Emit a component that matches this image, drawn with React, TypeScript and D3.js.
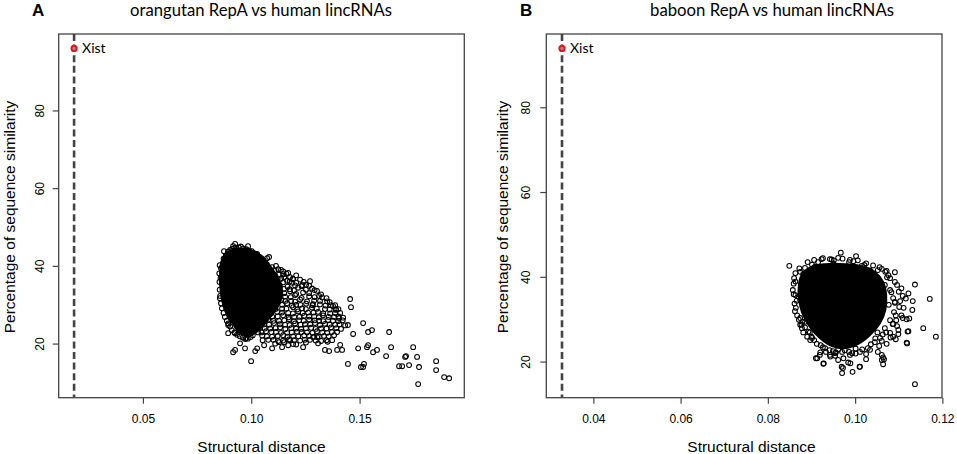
import React from 'react';
import { scaleLinear, line, curveCatmullRomClosed, format } from 'd3';

// panel A: orangutan RepA vs human lincRNAs
const titleA = 'orangutan RepA vs human lincRNAs';
const xistA = { x: 0.018, y: 96.1 };
const ticksXA = [0.05, 0.10, 0.15];
const ticksYA = [20, 40, 60, 80];

// outline of the solid black core of the cloud
const coreA: [number, number][] = [
  [0.0859, 41.1], [0.0882, 43.4], [0.0923, 44.5], [0.0969, 44.5], [0.1016, 43.7],
  [0.1052, 42.1], [0.1085, 40.1], [0.1112, 37.8], [0.1135, 35.2], [0.1140, 32.6],
  [0.1120, 29.6], [0.1080, 26.6], [0.1040, 24.0], [0.0990, 22.1], [0.0946, 22.8],
  [0.0914, 25.1], [0.0882, 28.0], [0.0863, 31.3], [0.0854, 35.2], [0.0854, 38.5],
];

const meshA: [number, number][] = [
  [0.1094, 39.8], [0.1122, 39.3], [0.1076, 38.4], [0.1145, 38.7], [0.1108, 37.6], [0.1177, 37.2], [0.1205, 37.7],
  [0.1085, 36.4], [0.1136, 36.8], [0.1163, 36.3], [0.1223, 36.6], [0.1117, 35.4], [0.1186, 35.8], [0.1251, 35.3],
  [0.1094, 34.6], [0.1149, 34.2], [0.1214, 34.5], [0.1278, 34.3], [0.1126, 33.2], [0.1177, 33.6], [0.1237, 33.3],
  [0.1301, 33.7], [0.1103, 32.5], [0.1154, 32.2], [0.1200, 32.6], [0.1265, 32.3], [0.1325, 32.0], [0.1136, 31.4],
  [0.1182, 31.1], [0.1223, 31.5], [0.1288, 31.2], [0.1348, 31.0], [0.1112, 30.2], [0.1163, 30.5], [0.1205, 30.1],
  [0.1251, 30.4], [0.1315, 30.2], [0.1366, 30.0], [0.1085, 29.4], [0.1140, 29.1], [0.1191, 29.5], [0.1232, 29.2],
  [0.1278, 29.4], [0.1338, 29.0], [0.1389, 28.8], [0.1117, 28.3], [0.1168, 28.0], [0.1214, 28.4], [0.1260, 28.1],
  [0.1306, 28.3], [0.1362, 27.9], [0.1408, 28.0], [0.1094, 27.1], [0.1145, 27.4], [0.1196, 27.0], [0.1242, 27.3],
  [0.1288, 27.1], [0.1329, 27.4], [0.1380, 27.0], [0.1422, 26.8], [0.1076, 26.3], [0.1126, 26.0], [0.1172, 26.4],
  [0.1219, 26.1], [0.1265, 26.3], [0.1311, 26.0], [0.1352, 26.2], [0.1399, 25.9], [0.1057, 25.1], [0.1103, 25.4],
  [0.1154, 25.0], [0.1200, 25.3], [0.1246, 25.1], [0.1292, 25.4], [0.1338, 25.2], [0.1385, 25.0], [0.1431, 24.8],
  [0.1039, 24.2], [0.1085, 24.0], [0.1131, 24.3], [0.1182, 24.1], [0.1228, 23.9], [0.1274, 24.2], [0.1320, 24.0],
  [0.1366, 24.3], [0.1412, 23.9], [0.1029, 23.0], [0.1066, 23.3], [0.1112, 23.1], [0.1163, 22.9], [0.1209, 23.2],
  [0.1255, 23.0], [0.1301, 23.3], [0.1348, 22.9], [0.1394, 23.1], [0.1048, 22.2], [0.1094, 21.9], [0.1145, 22.3],
  [0.1191, 22.0], [0.1242, 22.2], [0.1288, 21.9], [0.1334, 22.1], [0.1380, 22.3], [0.1076, 21.1], [0.1122, 20.8],
  [0.1172, 21.2], [0.1223, 20.9], [0.1269, 21.1], [0.1320, 20.8], [0.1371, 21.0], [0.1108, 20.1], [0.1205, 19.9],
  [0.1306, 20.2], [0.1408, 19.8],
  [0.1105, 39.0], [0.1135, 39.1], [0.1095, 38.0], [0.1125, 37.9], [0.1160, 38.1], [0.1090, 37.0], [0.1120, 36.9],
  [0.1150, 37.2], [0.1190, 36.8], [0.1110, 36.0], [0.1145, 35.9], [0.1175, 36.1], [0.1205, 35.8], [0.1240, 36.0],
  [0.1100, 35.0], [0.1130, 35.1], [0.1165, 34.8], [0.1200, 35.1], [0.1230, 34.9], [0.1265, 35.0], [0.1120, 34.0],
  [0.1175, 34.1], [0.1195, 33.8], [0.1250, 34.0], [0.1290, 33.9], [0.1105, 33.0], [0.1150, 33.1], [0.1205, 32.9],
  [0.1265, 33.1], [0.1320, 32.8], [0.1125, 32.0], [0.1180, 32.1], [0.1230, 31.9], [0.1290, 32.1], [0.1345, 31.8],
  [0.1100, 31.0], [0.1155, 31.1], [0.1200, 30.9], [0.1255, 31.0], [0.1315, 31.1], [0.1360, 30.8], [0.1095, 30.0],
  [0.1140, 30.1], [0.1185, 29.9], [0.1225, 30.1], [0.1280, 30.0], [0.1340, 29.9], [0.1385, 30.0], [0.1110, 29.0],
  [0.1160, 29.1], [0.1210, 28.9], [0.1250, 29.0], [0.1300, 29.1], [0.1360, 28.9], [0.1400, 29.0], [0.1090, 28.0],
  [0.1140, 28.1], [0.1190, 27.9], [0.1235, 28.0], [0.1285, 28.1], [0.1330, 27.9], [0.1385, 28.0], [0.1070, 27.0],
  [0.1120, 27.1], [0.1170, 26.9], [0.1220, 27.0], [0.1265, 27.1], [0.1310, 26.9], [0.1355, 27.0], [0.1400, 27.1],
  [0.1100, 26.0], [0.1150, 26.1], [0.1195, 25.9], [0.1240, 26.0], [0.1290, 26.1], [0.1330, 25.9], [0.1375, 26.0],
  [0.1420, 26.1], [0.1080, 25.0], [0.1130, 25.1], [0.1175, 24.9], [0.1225, 25.0], [0.1270, 25.1], [0.1315, 24.9],
  [0.1360, 25.0], [0.1405, 25.1], [0.1060, 24.0], [0.1110, 24.1], [0.1155, 23.9], [0.1205, 24.0], [0.1250, 24.1],
  [0.1295, 23.9], [0.1345, 24.0], [0.1390, 24.1], [0.1045, 23.0], [0.1090, 23.1], [0.1135, 22.9], [0.1185, 23.0],
  [0.1230, 23.1], [0.1280, 22.9], [0.1325, 23.0], [0.1370, 23.1], [0.1070, 22.0], [0.1120, 22.1], [0.1165, 21.9],
  [0.1215, 22.0], [0.1265, 22.1], [0.1310, 21.9], [0.1355, 22.0], [0.1050, 21.0], [0.1100, 21.1], [0.1145, 20.9],
  [0.1195, 21.0], [0.1245, 21.1], [0.1295, 20.9], [0.1345, 21.0], [0.1150, 20.5], [0.1250, 20.4], [0.1350, 20.6],
  [0.0858, 39.5], [0.0856, 37.0], [0.0852, 34.0], [0.0858, 30.5], [0.0870, 28.0], [0.0885, 26.0], [0.0900, 24.5],
  [0.0920, 23.0], [0.0945, 22.0], [0.0970, 21.3], [0.0995, 21.8], [0.0870, 42.0], [0.0890, 43.8], [0.0910, 44.5],
  [0.0940, 44.9], [0.0960, 44.6], [0.0990, 44.0], [0.1010, 43.4], [0.1035, 42.5], [0.1055, 41.5], [0.1070, 40.5],
  [0.0852, 40.3], [0.0850, 38.2], [0.0851, 36.0], [0.0853, 31.8], [0.0862, 29.2], [0.0876, 27.0], [0.0892, 25.3],
  [0.0908, 23.6], [0.0932, 22.4], [0.0958, 21.7], [0.0982, 21.4], [0.1005, 22.3], [0.0880, 42.8], [0.0900, 44.2],
  [0.0925, 44.8], [0.0950, 45.1], [0.0975, 44.4], [0.1000, 43.9], [0.1022, 43.0], [0.1045, 42.1], [0.1062, 41.0],
];

const outA: [number, number][] = [
  [0.0872, 43.9], [0.0914, 45.2], [0.0923, 45.8], [0.0983, 45.2], [0.1025, 43.2], [0.1071, 42.1], [0.1080, 42.4],
  [0.1112, 40.1], [0.1145, 38.0], [0.1168, 38.3], [0.1191, 36.7], [0.1233, 35.2], [0.1269, 36.2], [0.1311, 32.4],
  [0.1283, 30.3], [0.1375, 29.8], [0.1389, 29.0], [0.1454, 31.6], [0.1458, 29.5], [0.1403, 26.7], [0.1514, 25.4],
  [0.1537, 23.1], [0.1555, 23.6], [0.1444, 24.9], [0.1468, 22.6], [0.1634, 23.1], [0.1643, 19.2], [0.1620, 16.9],
  [0.1532, 19.2], [0.1537, 19.7], [0.1560, 17.9], [0.1578, 18.5], [0.1518, 14.9], [0.1504, 14.1], [0.1514, 14.1],
  [0.1444, 14.9], [0.1491, 18.9], [0.1680, 14.3], [0.1694, 14.3], [0.1726, 14.6], [0.1712, 16.9], [0.1708, 16.7],
  [0.1745, 19.2], [0.1763, 16.7], [0.1772, 14.1], [0.1768, 9.7], [0.1851, 15.6], [0.1851, 13.3], [0.1888, 11.5],
  [0.1911, 11.2], [0.1417, 18.5], [0.1394, 18.5], [0.1338, 18.5], [0.1357, 18.2], [0.1283, 21.8], [0.1302, 21.8],
  [0.1237, 19.2], [0.1191, 20.0], [0.1168, 19.7], [0.1177, 21.0], [0.1140, 19.2], [0.1126, 20.5], [0.1094, 18.9],
  [0.1057, 19.7], [0.1016, 18.2], [0.1025, 18.9], [0.0997, 15.6], [0.0969, 18.9], [0.0946, 20.2], [0.0914, 17.9],
  [0.0923, 18.5], [0.0891, 22.8], [0.0974, 21.5], [0.0923, 22.8], [0.0891, 24.9], [0.0872, 32.4], [0.0854, 32.4],
  [0.0863, 36.2],
];

// panel B: baboon RepA vs human lincRNAs
const titleB = 'baboon RepA vs human lincRNAs';
const xistB = { x: 0.0327, y: 94.0 };
const ticksXB = [0.04, 0.06, 0.08, 0.10, 0.12];
const ticksYB = [20, 40, 60, 80];

const coreB: [number, number][] = [
  [0.0876, 40.5], [0.0897, 42.4], [0.0930, 43.1], [0.0976, 43.1], [0.1015, 42.6], [0.1045, 41.2],
  [0.1063, 38.9], [0.1070, 35.8], [0.1068, 32.3], [0.1056, 29.2], [0.1033, 26.4], [0.1006, 24.3],
  [0.0976, 23.3], [0.0946, 23.8], [0.0918, 25.7], [0.0894, 28.5], [0.0877, 31.8], [0.0870, 35.3],
  [0.0870, 38.2],
];

const meshB: [number, number][] = [
  [0.1067, 38.2], [0.1079, 37.0], [0.1086, 35.1], [0.1076, 33.5], [0.1088, 31.8], [0.1079, 29.9], [0.1067, 28.0],
  [0.1079, 26.9], [0.1056, 25.7], [0.1044, 24.7], [0.1028, 23.3], [0.1010, 22.4], [0.0992, 22.1], [0.0969, 22.4],
  [0.0948, 22.6], [0.0930, 23.3], [0.0911, 24.3], [0.0900, 25.7], [0.0884, 29.5], [0.0873, 30.4], [0.0863, 32.8],
  [0.0856, 37.0], [0.0859, 39.8], [0.0884, 42.2], [0.0914, 43.6], [0.0941, 44.3], [0.0960, 44.6], [0.0987, 44.1],
  [0.1024, 43.3], [0.1051, 41.7], [0.1079, 39.8], [0.1095, 38.2], [0.1108, 35.6], [0.1095, 28.5], [0.1108, 30.4],
  [0.1051, 22.4], [0.1024, 21.9], [0.0932, 22.4],
  [0.1100, 33.0], [0.1105, 31.0], [0.1085, 29.0], [0.1070, 27.0], [0.1050, 27.0], [0.1090, 38.9], [0.1075, 40.5],
  [0.1060, 42.0], [0.1040, 42.8], [0.0995, 43.8], [0.0950, 44.0], [0.0900, 43.0], [0.0880, 40.8], [0.0858, 38.5],
  [0.0860, 33.8], [0.0866, 31.0], [0.0878, 29.5], [0.0895, 27.0], [0.0920, 24.0], [0.0960, 23.0], [0.1000, 23.2],
  [0.1035, 24.2], [0.1060, 25.0], [0.1080, 25.8], [0.1098, 26.6], [0.1110, 32.8], [0.1115, 35.0], [0.1105, 37.4],
  [0.0890, 43.6], [0.0905, 44.1], [0.0925, 44.5], [0.0945, 44.2], [0.0970, 44.4], [0.0985, 43.6], [0.1005, 44.0],
  [0.1020, 42.9], [0.1072, 40.0], [0.1082, 36.5], [0.1090, 34.0], [0.1092, 31.0], [0.1086, 29.0], [0.0940, 22.8],
  [0.0955, 22.3], [0.0975, 22.8], [0.0985, 22.4], [0.1000, 22.0], [0.1015, 23.0], [0.0862, 41.0], [0.0862, 39.0],
  [0.0858, 36.0], [0.0865, 34.5], [0.0861, 32.0], [0.0870, 30.0], [0.0880, 27.0], [0.0905, 25.2], [0.0925, 23.5],
  [0.1045, 25.6], [0.1062, 26.5], [0.1055, 42.4], [0.1068, 41.3],
];

const outB: [number, number][] = [
  [0.0848, 42.7], [0.0873, 41.3], [0.0862, 35.8], [0.0869, 35.4], [0.0873, 34.6], [0.0876, 28.8], [0.0884, 28.2],
  [0.0892, 27.2], [0.0899, 26.0], [0.0966, 45.8], [0.1001, 45.0], [0.0907, 42.5], [0.0922, 44.3], [0.0949, 43.3],
  [0.1014, 42.7], [0.1033, 41.6], [0.1071, 41.5], [0.1090, 41.2], [0.1136, 38.3], [0.1170, 34.9], [0.1099, 36.6],
  [0.1121, 36.2], [0.1102, 34.4], [0.1131, 34.4], [0.1090, 34.2], [0.1130, 32.3], [0.1117, 30.1], [0.1123, 30.3],
  [0.1093, 29.9], [0.1155, 28.0], [0.1184, 26.0], [0.1098, 27.6], [0.1121, 27.3], [0.1086, 26.0], [0.1092, 25.4],
  [0.1117, 24.6], [0.1071, 24.3], [0.1054, 23.8], [0.1060, 21.7], [0.1065, 20.7], [0.1024, 20.7], [0.1033, 22.9],
  [0.1010, 18.9], [0.0993, 17.7], [0.0983, 19.9], [0.0968, 18.9], [0.0960, 20.5], [0.0972, 20.9], [0.0941, 21.7],
  [0.0953, 21.5], [0.0912, 20.9], [0.0918, 21.7], [0.0926, 19.6], [0.0987, 21.7], [0.1136, 14.8], [0.1063, 19.5],
  [0.1060, 20.5], [0.1063, 21.1], [0.1009, 18.9], [0.0969, 17.4], [0.0971, 18.6], [0.0988, 19.7], [0.0909, 20.9],
  [0.0927, 19.7], [0.0919, 22.3], [0.0942, 21.3], [0.0953, 22.1], [0.1118, 24.4], [0.1119, 27.2], [0.0871, 42.1],
  [0.0873, 28.8], [0.0877, 28.0], [0.0889, 26.0], [0.0896, 25.2],
];

const gill = 'Lato, "Open Sans", sans-serif';
const arial = '"Liberation Sans", Arial, sans-serif';

interface PanelProps {
  letter: string;
  letterX: number;
  title: string;
  titleX: number;
  titleLen: number;
  left: number;
  right: number;
  xDomain: [number, number];
  yDomain: [number, number];
  ticksX: number[];
  ticksY: number[];
  xLabelX: number;
  yLabelX: number;
  yTickX: number;
  core: [number, number][];
  mesh: [number, number][];
  out: [number, number][];
  xist: { x: number; y: number };
}

const top = 34;
const bottom = 397.7;

const Panel: React.FC<PanelProps> = (p) => {
  const x = scaleLinear().domain(p.xDomain).range([p.left, p.right]);
  const y = scaleLinear().domain(p.yDomain).range([bottom, top]);
  const hull = line<[number, number]>()
    .x(d => x(d[0]))
    .y(d => y(d[1]))
    .curve(curveCatmullRomClosed.alpha(0.5));
  const fx = format('.2f');
  const pts = [...p.mesh, ...p.out];
  return (
    <g>
      <text x={p.letterX} y={16} fontFamily={arial} fontWeight="bold" fontSize={17}>{p.letter}</text>
      <text x={p.titleX} y={15.5} fontFamily={gill} fontSize={17} textAnchor="middle"
        textLength={p.titleLen} lengthAdjust="spacingAndGlyphs">{p.title}</text>

      <path d={hull(p.core) ?? ''} fill="#000" stroke="#000" strokeWidth={2} />
      {pts.map((d, i) => (
        <circle key={i} cx={x(d[0])} cy={y(d[1])} r={2.4} fill="none" stroke="#000" strokeWidth={1.05} />
      ))}

      <line x1={x(p.xist.x)} x2={x(p.xist.x)} y1={top} y2={bottom}
        stroke="#444" strokeWidth={2.6} strokeDasharray="7,3.6" />
      <circle cx={x(p.xist.x)} cy={y(p.xist.y)} r={2.6} fill="#8a9a96" stroke="#e8141c" strokeWidth={2} />
      <text x={x(p.xist.x) + 8} y={y(p.xist.y) + 4.5} fontFamily={gill} fontSize={14}>Xist</text>

      <rect x={p.left} y={top} width={p.right - p.left} height={bottom - top}
        fill="none" stroke="#444" strokeWidth={1.3} />

      {p.ticksX.map(t => (
        <g key={t}>
          <line x1={x(t)} x2={x(t)} y1={bottom} y2={bottom + 6} stroke="#444" strokeWidth={1.2} />
          <text x={x(t)} y={423} fontFamily={arial} fontSize={12} textAnchor="middle">{fx(t)}</text>
        </g>
      ))}
      {p.ticksY.map(t => (
        <g key={t}>
          <line x1={p.left} x2={p.left - 6} y1={y(t)} y2={y(t)} stroke="#444" strokeWidth={1.2} />
          <text transform={`translate(${p.yTickX},${y(t)}) rotate(-90)`} fontFamily={arial}
            fontSize={12} textAnchor="middle">{t}</text>
        </g>
      ))}

      <text x={p.xLabelX} y={452} fontFamily={arial} fontSize={15.5} textAnchor="middle">Structural distance</text>
      <text transform={`translate(${p.yLabelX},217) rotate(-90)`} fontFamily={arial} fontSize={15.5}
        textAnchor="middle">Percentage of sequence similarity</text>
    </g>
  );
};

const App: React.FC = () => {
  return (
    <svg width={957} height={454} style={{ position: 'absolute', left: 0, top: 0, background: '#fff' }}>
      <Panel letter="A" letterX={32} title={titleA} titleX={261} titleLen={262}
        left={58.7} right={464.3} xDomain={[0.0109, 0.1981]} yDomain={[6.2, 99.8]}
        ticksX={ticksXA} ticksY={ticksYA} xLabelX={261.5} yLabelX={15} yTickX={44}
        core={coreA} mesh={meshA} out={outA} xist={xistA} />
      <Panel letter="B" letterX={520} title={titleB} titleX={772} titleLen={244}
        left={546.3} right={942} xDomain={[0.0291, 0.1198]} yDomain={[11.6, 97.4]}
        ticksX={ticksXB} ticksY={ticksYB} xLabelX={751.5} yLabelX={508} yTickX={530}
        core={coreB} mesh={meshB} out={outB} xist={xistB} />
    </svg>
  );
};

export default App;
